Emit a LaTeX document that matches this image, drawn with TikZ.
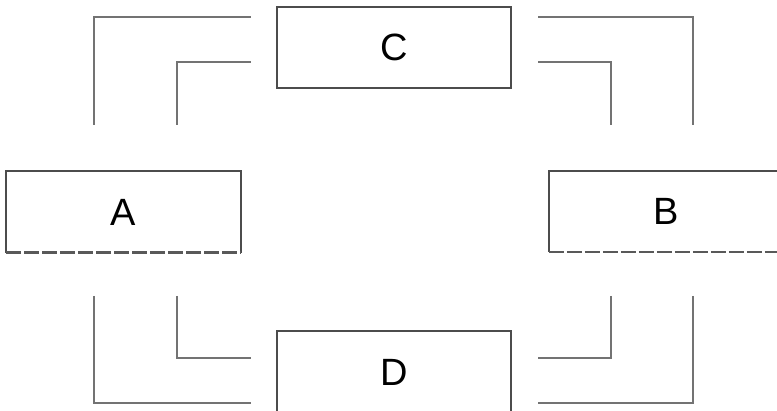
\documentclass[tikz,border=0pt]{standalone}
\usepackage{fontspec}
\setmainfont{Liberation Sans}
\begin{document}
\begin{tikzpicture}[x=1pt,y=-1pt,
  box/.style={minimum width=234pt,minimum height=81pt,inner sep=0pt,font=\fontsize{38}{40}\selectfont},
  edge/.style={draw=black!70,line width=2pt},
  dashedge/.style={draw=black!65,line width=2.4pt,dash pattern=on 15pt off 3pt},
  link/.style={draw=black!55,line width=2.6pt}]
\useasboundingbox (0,0) rectangle (777,411);
\node[box] (A) at (123.5,212) {A};
\node[box] (B) at (666,211.5) {B};
\node[box] (C) at (394,47.5) {C};
\node[box] (D) at (394,372) {D};
\draw[edge] (A.south west) -- (A.north west) -- (A.north east) -- (A.south east);
\draw[dashedge] (A.south west) -- (A.south east);
\draw[edge] (B.south east) -- (B.north east) -- (B.north west) -- (B.south west);
\draw[dashedge] (B.south west) -- (B.south east);
\draw[edge] (C.south west) rectangle (C.north east);
\draw[edge] (D.south west) rectangle (D.north east);
% coordinates of link ends
\coordinate (tl1) at (94,125);  \coordinate (tl2) at (251,17);
\coordinate (tl3) at (177,125); \coordinate (tl4) at (251,62);
\coordinate (tr1) at (693,125); \coordinate (tr2) at (538,17);
\coordinate (tr3) at (611,125); \coordinate (tr4) at (538,62);
\coordinate (bl1) at (94,296);  \coordinate (bl2) at (251,403);
\coordinate (bl3) at (177,296); \coordinate (bl4) at (251,358);
\coordinate (br1) at (693,296); \coordinate (br2) at (538,403);
\coordinate (br3) at (611,296); \coordinate (br4) at (538,358);
\draw[link] (tl1) |- (tl2);
\draw[link] (tl3) |- (tl4);
\draw[link] (tr1) |- (tr2);
\draw[link] (tr3) |- (tr4);
\draw[link] (bl1) |- (bl2);
\draw[link] (bl3) |- (bl4);
\draw[link] (br1) |- (br2);
\draw[link] (br3) |- (br4);
\end{tikzpicture}
\end{document}
